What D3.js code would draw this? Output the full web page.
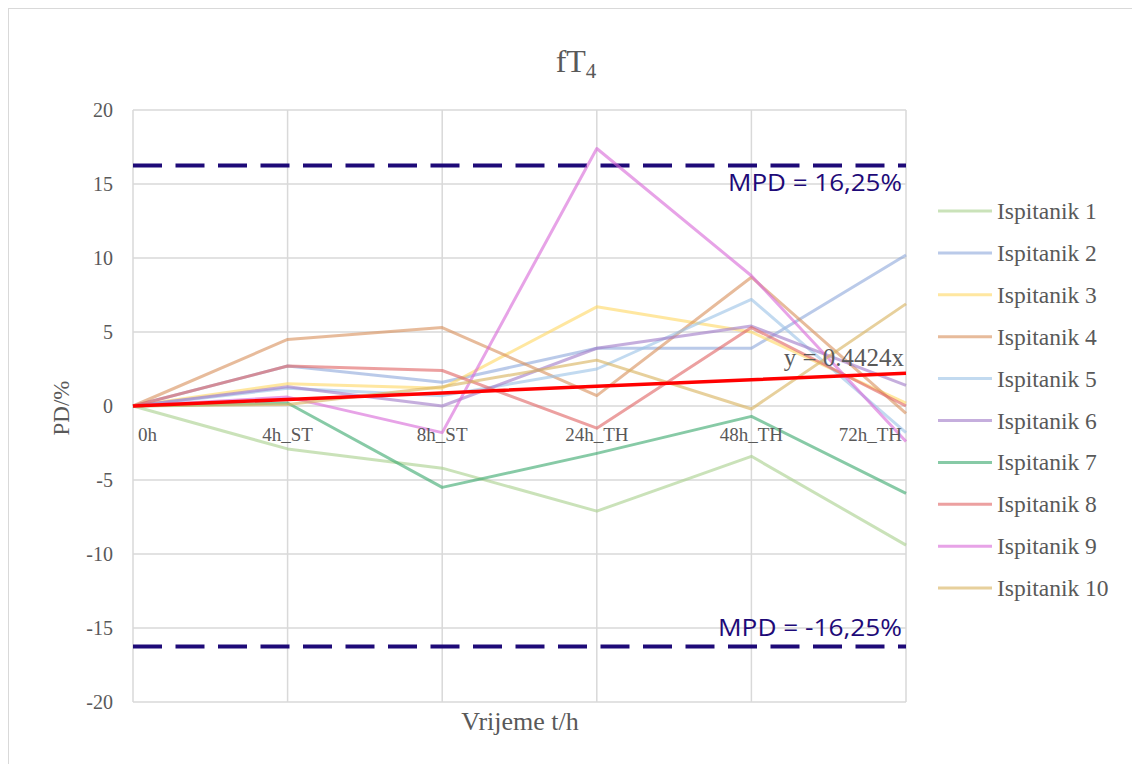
<!DOCTYPE html>
<html>
<head>
<meta charset="utf-8">
<script src="https://cdn.jsdelivr.net/npm/d3@7"></script>
<style>
html,body{margin:0;padding:0;background:#fff;}
svg{display:block;}
</style>
</head>
<body>
<svg id="chart" width="1132" height="764"></svg>
<script>
// ---- data ----
const categories = ["0h", "4h_ST", "8h_ST", "24h_TH", "48h_TH", "72h_TH"];
const seriesNames = ["Ispitanik 1","Ispitanik 2","Ispitanik 3","Ispitanik 4","Ispitanik 5","Ispitanik 6","Ispitanik 7","Ispitanik 8","Ispitanik 9","Ispitanik 10"];
const ispitanik1  = [0, -2.9, -4.2, -7.1, -3.4, -9.4];
const ispitanik2  = [0, 2.7, 1.6, 3.9, 3.9, 10.2];
const ispitanik3  = [0, 1.5, 1.2, 6.7, 5.0, 0.2];
const ispitanik4  = [0, 4.5, 5.3, 0.7, 8.7, -0.5];
const ispitanik5  = [0, 1.2, 0.7, 2.5, 7.2, -1.8];
const ispitanik6  = [0, 1.3, 0.0, 3.9, 5.4, 1.4];
const ispitanik7  = [0, 0.2, -5.5, -3.2, -0.7, -5.9];
const ispitanik8  = [0, 2.7, 2.4, -1.5, 5.3, 0.0];
const ispitanik9  = [0, 0.6, -1.8, 17.4, 8.8, -2.4];
const ispitanik10 = [0, 0.1, 1.3, 3.1, -0.2, 6.9];
const seriesValues = [ispitanik1, ispitanik2, ispitanik3, ispitanik4, ispitanik5, ispitanik6, ispitanik7, ispitanik8, ispitanik9, ispitanik10];
const seriesColors = ["#a9d18e","#8faadc","#ffd966","#d9925e","#9dc3e6","#a27cc8","#3daa70","#e06666","#d86ad8","#d9b35f"];
const yTicks = [20, 15, 10, 5, 0, -5, -10, -15, -20];
const trendSlope = 0.4424;
const mpd = 16.25;

// ---- layout ----
const svg = d3.select("#chart");
const plot = {left: 133, right: 906, top: 110, bottom: 702};
const x = d3.scalePoint().domain(categories).range([plot.left, plot.right]);
const y = d3.scaleLinear().domain([-20, 20]).range([plot.bottom, plot.top]);
const serif = "'Liberation Serif','Times New Roman',serif";
const grey = "#595959";

// outer border
svg.append("rect").attr("x", 8.5).attr("y", 8.5).attr("width", 1140).attr("height", 770)
  .attr("fill", "none").attr("stroke", "#d9d9d9").attr("stroke-width", 1);

// title
const title = svg.append("text").attr("x", 576).attr("y", 72).attr("text-anchor", "middle")
  .attr("font-family", serif).attr("font-size", 32).attr("fill", grey);
title.append("tspan").text("fT");
title.append("tspan").attr("font-size", 21).attr("dy", 6).text("4");

// grid
svg.append("g").selectAll("line").data(yTicks).join("line")
  .attr("x1", plot.left).attr("x2", plot.right)
  .attr("y1", d => y(d)).attr("y2", d => y(d))
  .attr("stroke", "#d9d9d9").attr("stroke-width", 1.5);
svg.append("g").selectAll("line").data(categories).join("line")
  .attr("x1", d => x(d)).attr("x2", d => x(d))
  .attr("y1", plot.top).attr("y2", plot.bottom)
  .attr("stroke", "#d9d9d9").attr("stroke-width", 1.5);

// y tick labels
svg.append("g").selectAll("text").data(yTicks).join("text")
  .attr("x", 113).attr("y", d => y(d) + 7).attr("text-anchor", "end")
  .attr("font-family", serif).attr("font-size", 20).attr("fill", grey)
  .text(d => d);

// MPD lines
const mpdColor = "#1e0a78";
[mpd, -mpd].forEach(v => {
  svg.append("line").attr("x1", plot.left).attr("x2", plot.right)
    .attr("y1", y(v)).attr("y2", y(v))
    .attr("stroke", mpdColor).attr("stroke-width", 4)
    .attr("stroke-dasharray", "29,13.5");
});
svg.append("text").attr("x", 902).attr("y", y(mpd) + 25).attr("text-anchor", "end")
  .attr("font-family", "'Open Sans','Noto Sans',sans-serif").attr("font-size", 24)
  .attr("fill", mpdColor).attr("textLength", 174).attr("lengthAdjust", "spacingAndGlyphs")
  .text("MPD = 16,25%");
svg.append("text").attr("x", 902).attr("y", y(-mpd) - 11).attr("text-anchor", "end")
  .attr("font-family", "'Open Sans','Noto Sans',sans-serif").attr("font-size", 24)
  .attr("fill", mpdColor).attr("textLength", 184).attr("lengthAdjust", "spacingAndGlyphs")
  .text("MPD = -16,25%");

// series lines
const line = d3.line().x((d, i) => x(categories[i])).y(d => y(d));
svg.append("g").selectAll("path").data(seriesValues).join("path")
  .attr("d", d => line(d)).attr("fill", "none")
  .attr("stroke", (d, i) => seriesColors[i]).attr("stroke-width", 3)
  .attr("stroke-opacity", 0.62).attr("stroke-linejoin", "round");

// category labels (inside, at zero line, clamped to plot)
const catG = svg.append("g");
categories.forEach(c => {
  const t = catG.append("text").attr("y", y(0) + 35).attr("font-family", serif)
    .attr("font-size", 19).attr("fill", grey).text(c);
  const w = t.node().getComputedTextLength();
  let cx = x(c) - w / 2;
  cx = Math.max(plot.left + 5, Math.min(plot.right - 4 - w, cx));
  t.attr("x", cx);
});

// trend line
const trendData = categories.map((c, i) => trendSlope * i);
svg.append("path").attr("d", line(trendData)).attr("fill", "none")
  .attr("stroke", "#ff0000").attr("stroke-width", 3.5);
svg.append("text").attr("x", 904).attr("y", 366).attr("text-anchor", "end")
  .attr("font-family", serif).attr("font-size", 25).attr("fill", grey)
  .text("y = " + trendSlope + "x");

// axis titles
svg.append("text").attr("x", 520).attr("y", 730).attr("text-anchor", "middle")
  .attr("font-family", serif).attr("font-size", 26).attr("fill", grey).text("Vrijeme t/h");
svg.append("text").attr("transform", "translate(69,408) rotate(-90)").attr("text-anchor", "middle")
  .attr("font-family", serif).attr("font-size", 23).attr("fill", grey).text("PD/%");

// legend
const lg = svg.append("g").selectAll("g").data(seriesNames).join("g")
  .attr("transform", (d, i) => `translate(938, ${211 + i * 41.9})`);
lg.append("line").attr("x1", 0).attr("x2", 54).attr("y1", 0).attr("y2", 0)
  .attr("stroke", (d, i) => seriesColors[i]).attr("stroke-width", 3).attr("stroke-opacity", 0.62);
lg.append("text").attr("x", 59).attr("y", 8).attr("font-family", serif)
  .attr("font-size", 23.5).attr("fill", grey).text(d => d);
</script>
</body>
</html>
